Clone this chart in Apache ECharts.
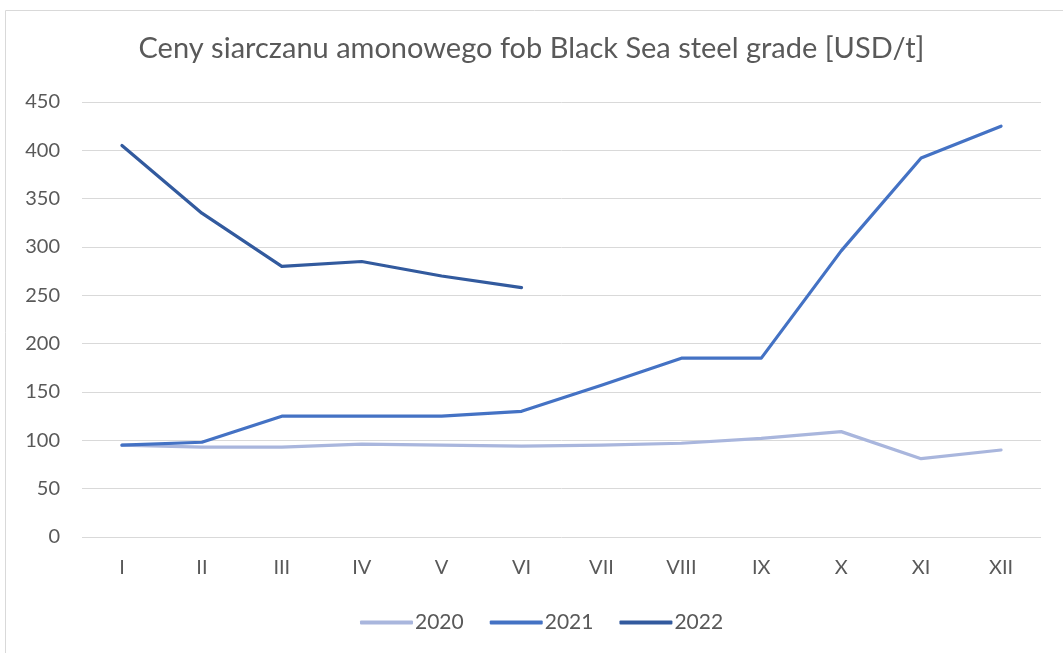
<!DOCTYPE html>
<html>
<head>
<meta charset="utf-8">
<script src="https://cdn.jsdelivr.net/npm/echarts@6/dist/echarts.min.js"></script>
<style>
html,body{margin:0;padding:0;background:#fff;}
#c{width:1063px;height:653px;}
</style>
</head>
<body>
<div id="c"></div>
<script>
const categories = ['I','II','III','IV','V','VI','VII','VIII','IX','X','XI','XII'];
const s2020 = [95, 93, 93, 96, 95, 94, 95, 97, 102, 109, 81, 90];
const s2021 = [95, 98, 125, 125, 125, 130, 157, 185, 185, 296, 392, 425];
const s2022 = [405, 335, 280, 285, 270, 258, null, null, null, null, null, null];
const yTicks = {min: 0, max: 450, interval: 50};
const FONT = 'Lato';

const chart = echarts.init(document.getElementById('c'), null, {renderer: 'canvas'});
function mk(name, data, color) {
  return {
    name, type: 'line', data, symbol: 'none', connectNulls: false,
    lineStyle: {width: 3.2, color, cap: 'round', join: 'round'},
    itemStyle: {color}, emphasis: {disabled: true}
  };
}
chart.setOption({
  animation: false,
  textStyle: {fontFamily: FONT},
  graphic: [{
    type: 'rect', left: 3, top: 8, shape: {width: 1058, height: 660},
    style: {fill: 'none', stroke: '#d9d9d9', lineWidth: 1}, silent: true
  }],
  title: {
    text: 'Ceny siarczanu amonowego fob Black Sea steel grade [USD/t]',
    left: 'center', top: 29,
    textStyle: {fontFamily: FONT, fontSize: 29, fontWeight: 'normal', color: '#595959'}
  },
  legend: {
    bottom: 15, left: 355,
    icon: 'roundRect', itemWidth: 53, itemHeight: 4, itemGap: 26,
    textStyle: {fontFamily: FONT, fontSize: 21, color: '#595959', padding: [0,0,0,-3]},
    data: ['2020','2021','2022']
  },
  grid: {left: 82, right: 22, top: 102, bottom: 116},
  xAxis: {
    type: 'category', data: categories, boundaryGap: true,
    axisLine: {show: false}, axisTick: {show: false},
    axisLabel: {color: '#595959', fontSize: 20, margin: 21, fontFamily: FONT}
  },
  yAxis: {
    type: 'value', min: yTicks.min, max: yTicks.max, interval: yTicks.interval,
    axisLine: {show: false}, axisTick: {show: false},
    axisLabel: {color: '#595959', fontSize: 20, margin: 22, fontFamily: FONT},
    splitLine: {lineStyle: {color: '#d9d9d9', width: 1}}
  },
  series: [
    mk('2020', s2020, '#a9b6dd'),
    mk('2021', s2021, '#4472c4'),
    mk('2022', s2022, '#325a9e')
  ]
});
</script>
</body>
</html>
